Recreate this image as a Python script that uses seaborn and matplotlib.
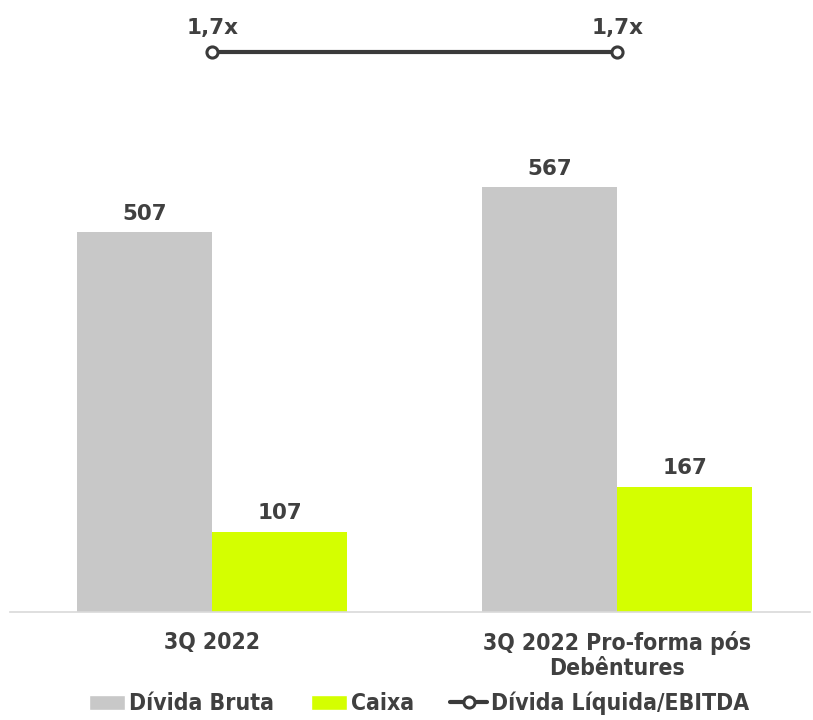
import matplotlib
matplotlib.use("Agg")
import matplotlib.pyplot as plt
from matplotlib.patches import Patch
from matplotlib.lines import Line2D
import pandas as pd
import seaborn as sns

periodos = ["3Q 2022", "3Q 2022 Pro-forma pós\nDebêntures"]
divida_bruta = [507, 567]
caixa = [107, 167]
alavancagem = [1.7, 1.7]
alavancagem_rotulos = ["1,7x", "1,7x"]

cor_bruta = "#C8C8C8"
cor_caixa = "#D4FF00"
cor_linha = "#3A3A3A"
cor_texto = "#404040"

df = pd.DataFrame({
    "periodo": periodos * 2,
    "serie": ["Dívida Bruta"] * 2 + ["Caixa"] * 2,
    "valor": divida_bruta + caixa,
})

sns.set_style("white")
plt.rcParams["font.family"] = ["DejaVu Sans"]

fig = plt.figure(figsize=(8.13, 7.2), dpi=100)
ax = fig.add_axes([10 / 813, 0.15, 800 / 813, 602 / 720])

sns.barplot(data=df, x="periodo", y="valor", hue="serie",
            palette=[cor_bruta, cor_caixa], width=0.667, saturation=1,
            linewidth=0, ax=ax, legend=False)

for cont in ax.containers:
    ax.bar_label(cont, fmt="%d", padding=6, fontsize=15.5,
                 fontweight="bold", color=cor_texto)

ax.set_ylim(0, 803)
ax.set_xlim(-0.499, 1.476)
ax.set_xlabel("")
ax.set_ylabel("")
ax.set_yticks([])
ax.tick_params(axis="x", length=0, pad=14)
for lbl in ax.get_xticklabels():
    lbl.set_fontsize(16.5)
    lbl.set_fontweight("bold")
    lbl.set_fontstretch("condensed")
    lbl.set_color(cor_texto)
    lbl.set_linespacing(1.1)
for s in ["top", "right", "left"]:
    ax.spines[s].set_visible(False)
ax.spines["bottom"].set_color("#D9D9D9")
ax.spines["bottom"].set_linewidth(1.2)

# linha do indicador num eixo secundário
ax2 = ax.twinx()
ax2.plot([0, 1], alavancagem, color=cor_linha, lw=3, marker="o",
         markersize=8, markerfacecolor="white", markeredgewidth=2.2,
         markeredgecolor=cor_linha)
ax2.set_ylim(0, 1.828)
ax2.set_yticks([])
for s in ax2.spines.values():
    s.set_visible(False)
for x, v, t in zip([0, 1], alavancagem, alavancagem_rotulos):
    ax2.annotate(t, (x, v), xytext=(0, 10), textcoords="offset points",
                 ha="center", va="bottom", fontsize=15.5,
                 fontweight="bold", color=cor_texto)

handles = [
    Patch(facecolor=cor_bruta, label="Dívida Bruta"),
    Patch(facecolor=cor_caixa, label="Caixa"),
    Line2D([0], [0], color=cor_linha, lw=3, marker="o", markersize=8,
           markerfacecolor="white", markeredgewidth=2.2,
           label="Dívida Líquida/EBITDA"),
]
leg = fig.legend(handles=handles, loc="lower center", ncol=3, frameon=False,
                 bbox_to_anchor=(0.515, -0.022), handlelength=1.6,
                 handleheight=0.65, handletextpad=0.15, columnspacing=1.6,
                 prop={"size": 16.5, "weight": "bold", "stretch": "condensed"})
for t in leg.get_texts():
    t.set_color(cor_texto)

fig.savefig("out.png", dpi=100)
